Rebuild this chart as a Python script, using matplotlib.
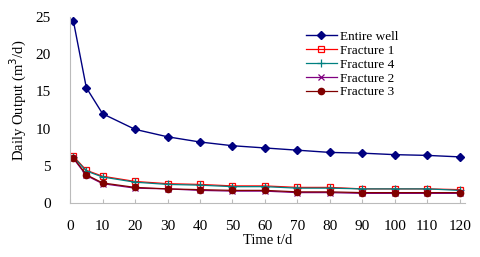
"""
Daily output of the entire well and each fracture over time.
"""
import matplotlib
matplotlib.use("Agg")
import matplotlib.pyplot as plt

plt.rcParams['font.family'] = ['Liberation Serif', 'DejaVu Serif']

# data
days = [1, 5, 10, 20, 30, 40, 50, 60, 70, 80, 90, 100, 110, 120]
entire_well = [24.5, 15.5, 12.0, 9.9, 8.9, 8.2, 7.7, 7.4, 7.1, 6.8, 6.7, 6.5, 6.4, 6.2]
fracture1 = [6.3, 4.4, 3.6, 2.9, 2.6, 2.5, 2.3, 2.3, 2.1, 2.1, 1.9, 1.9, 1.9, 1.8]
fracture4 = [6.2, 4.3, 3.5, 2.8, 2.5, 2.4, 2.2, 2.2, 2.0, 2.0, 1.9, 1.9, 1.9, 1.7]
fracture2 = [6.0, 3.7, 2.6, 2.0, 1.9, 1.7, 1.6, 1.6, 1.4, 1.4, 1.3, 1.3, 1.3, 1.3]
fracture3 = [6.1, 3.8, 2.7, 2.1, 1.9, 1.8, 1.7, 1.7, 1.5, 1.5, 1.4, 1.4, 1.4, 1.4]

fig = plt.figure(figsize=(4.8, 2.57), dpi=100)
ax = fig.add_axes([0.146, 0.21, 0.822, 0.724])

ax.plot(days, entire_well, color='#000080', marker='D', ms=4.5, lw=1.0, label='Entire well')
ax.plot(days, fracture1, color='#FF0000', marker='s', ms=5, mfc='none', mew=0.9, lw=0.9, label='Fracture 1')
ax.plot(days, fracture4, color='#008080', marker='+', ms=6, mew=0.9, lw=0.9, label='Fracture 4')
ax.plot(days, fracture2, color='#800080', marker='x', ms=4, mew=0.9, lw=0.9, label='Fracture 2')
ax.plot(days, fracture3, color='#800000', marker='o', ms=4.5, lw=0.9, label='Fracture 3')

ax.set_xlim(0, 121.5)
ax.set_ylim(0, 25)
ax.set_xticks(range(0, 121, 10))
ax.set_yticks(range(0, 26, 5))
ax.tick_params(axis='x', labelsize=11, length=3, direction='in', color='#bbbbbb', pad=12)
ax.tick_params(axis='y', labelsize=11, length=0, pad=14)
for s in ['top', 'right']:
    ax.spines[s].set_visible(False)
for s in ['left', 'bottom']:
    ax.spines[s].set_color('#bbbbbb')

ax.set_xlabel('Time t/d', fontsize=10.5, labelpad=1)
ax.set_ylabel('Daily Output (m$^3$/d)', fontsize=10.5)
ax.yaxis.set_label_coords(-0.104, 0.55)

ax.legend(loc='upper left', bbox_to_anchor=(0.575, 0.975), frameon=False, fontsize=9.5,
          handlelength=2.3, labelspacing=0.12, borderpad=0.2, handletextpad=0.3)

fig.savefig('out.png', dpi=100)
